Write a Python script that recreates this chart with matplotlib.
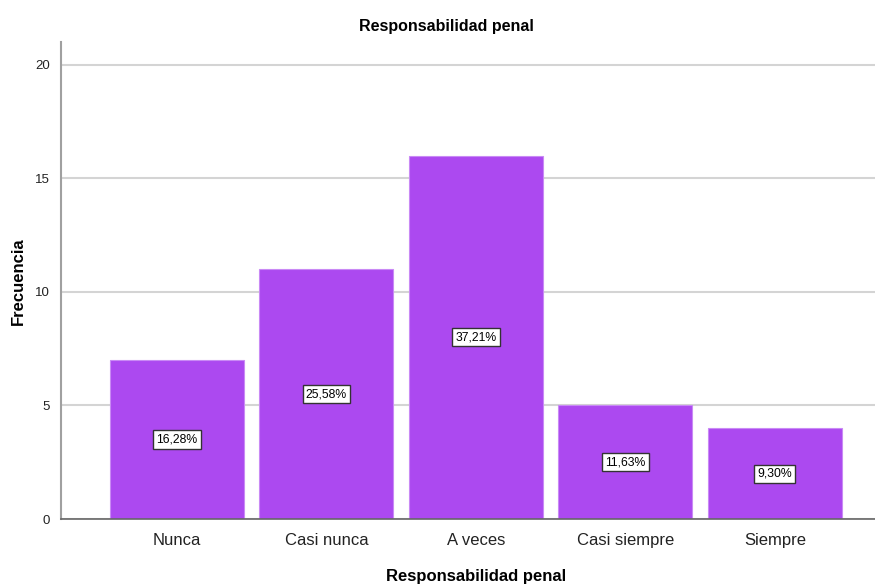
import matplotlib
matplotlib.use("Agg")
import matplotlib.pyplot as plt

plt.rcParams['font.family'] = ['Liberation Sans', 'DejaVu Sans']

categorias = ["Nunca", "Casi nunca", "A veces", "Casi siempre", "Siempre"]
frecuencias = [7, 11, 16, 5, 4]
porcentajes = ["16,28%", "25,58%", "37,21%", "11,63%", "9,30%"]

fig = plt.figure(figsize=(8.75, 5.86), dpi=100)
ax = fig.add_axes([61/875, 1-519/586, 1-61/875, (519-42)/586])

x = list(range(len(categorias)))
ax.bar(x, frecuencias, width=0.896, color="#AC49F0", edgecolor="#C98AF5",
       linewidth=0.8, zorder=2)

# etiquetas de porcentaje a media altura
for i, (f, p) in enumerate(zip(frecuencias, porcentajes)):
    ax.text(i, f/2, p, ha="center", va="center", fontsize=8.8, color="black",
            zorder=3,
            bbox=dict(boxstyle="square,pad=0.25", facecolor="white",
                      edgecolor="#333333", linewidth=1))

ax.set_xlim(-0.776, 4.67)
ax.set_ylim(0, 21.0)
ax.set_yticks([0, 5, 10, 15, 20])
ax.set_xticks(x)
ax.set_xticklabels(categorias, fontsize=12, color="#222222")
ax.tick_params(axis="y", labelsize=9.5, length=0, pad=8, colors="#222222")
ax.tick_params(axis="x", length=0, pad=10)
ax.yaxis.grid(True, color="#d4d4d4", linewidth=1.5, zorder=0)
ax.set_axisbelow(True)

for s in ["top", "right"]:
    ax.spines[s].set_visible(False)
ax.spines["left"].set_color("#a0a0a0")
ax.spines["left"].set_linewidth(1.5)
ax.spines["bottom"].set_color("#666666")
ax.spines["bottom"].set_linewidth(1.2)

fig.text(446/875, 1-26/586, "Responsabilidad penal", ha="center", va="center",
         fontsize=11.5, fontweight="bold")
fig.text(476/875, 1-577/586, "Responsabilidad penal", ha="center", va="center",
         fontsize=12, fontweight="bold")
fig.text(18/875, 1-281/586, "Frecuencia", ha="center", va="center",
         rotation=90, fontsize=12, fontweight="bold")

fig.savefig("out.png", dpi=100)
